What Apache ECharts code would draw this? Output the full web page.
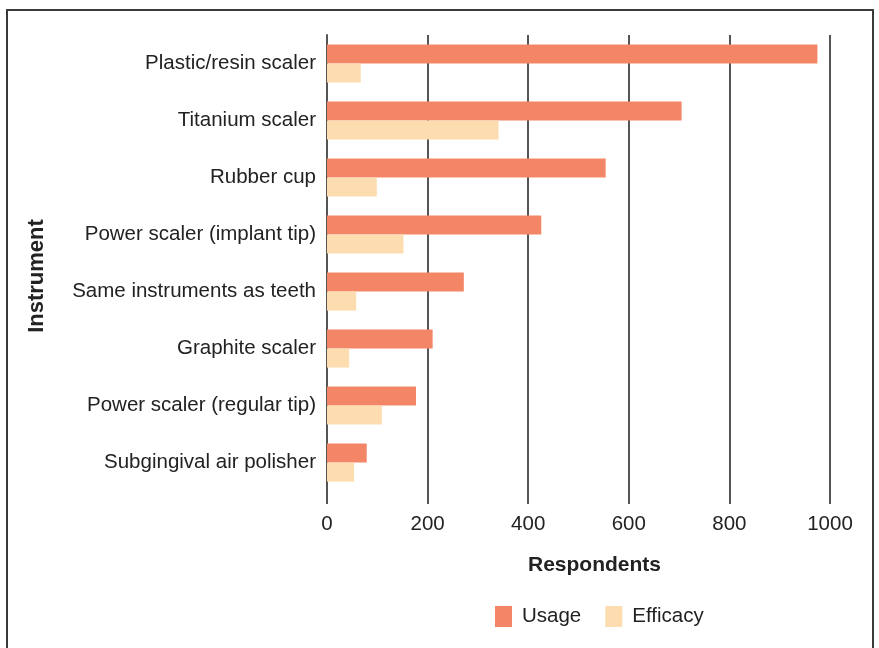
<!DOCTYPE html>
<html>
<head>
<meta charset="utf-8">
<script src="https://cdn.jsdelivr.net/npm/echarts@6/dist/echarts.min.js"></script>
<style>
  html, body { margin: 0; padding: 0; width: 879px; height: 648px; overflow: hidden; background: #fff; }
  #frame { position: absolute; left: 6px; top: 9px; width: 864px; height: 700px; border: 2px solid #3a3a3a; }
  #chart { position: absolute; left: 0; top: 0; width: 879px; height: 648px; }
</style>
</head>
<body>
<div id="frame"></div>
<div id="chart"></div>
<script>
  const categories = [
    'Plastic/resin scaler',
    'Titanium scaler',
    'Rubber cup',
    'Power scaler (implant tip)',
    'Same instruments as teeth',
    'Graphite scaler',
    'Power scaler (regular tip)',
    'Subgingival air polisher'
  ];
  const usage = [975, 705, 554, 426, 272, 210, 177, 79];
  const efficacy = [67, 341, 99, 152, 58, 44, 109, 54];
  const xTicks = [0, 200, 400, 600, 800, 1000];

  const font = "'Liberation Sans', Arial, sans-serif";
  const chart = echarts.init(document.getElementById('chart'));

  chart.setOption({
    animation: false,
    textStyle: { fontFamily: font },
    grid: { left: 327, right: 49, top: 35, height: 456 },
    legend: {
      bottom: 16,
      left: 490,
      itemWidth: 17,
      itemHeight: 21,
      itemGap: 24,
      icon: 'rect',
      textStyle: { fontSize: 20.5, color: '#222', fontFamily: font, padding: [0, 0, 0, 5] },
      data: ['Usage', 'Efficacy']
    },
    xAxis: {
      type: 'value',
      min: xTicks[0],
      max: xTicks[xTicks.length - 1],
      interval: 200,
      name: 'Respondents',
      nameLocation: 'middle',
      nameGap: 64,
      nameTextStyle: { fontSize: 21, fontWeight: 'bold', color: '#222', fontFamily: font, padding: [0, 0, 0, 32] },
      axisLine: { show: false },
      axisTick: { show: true, length: 13, lineStyle: { color: '#555', width: 2 } },
      axisLabel: { fontSize: 20.5, color: '#222', margin: 23, fontFamily: font, formatter: v => String(v) },
      splitLine: { show: true, lineStyle: { color: '#555', width: 2 } }
    },
    yAxis: {
      type: 'category',
      data: categories,
      inverse: true,
      name: 'Instrument',
      nameLocation: 'middle',
      nameGap: 279,
      nameRotate: 90,
      nameTextStyle: { fontSize: 22, fontWeight: 'bold', color: '#222', fontFamily: font, padding: [0, 26, 0, 0] },
      axisLine: { show: true, lineStyle: { color: '#555', width: 2 } },
      axisTick: { show: false },
      axisLabel: { fontSize: 20.5, color: '#222', margin: 11, fontFamily: font }
    },
    series: [
      {
        name: 'Usage',
        type: 'bar',
        data: usage,
        barGap: '0%',
        barCategoryGap: '33%',
        itemStyle: { color: '#F48668' }
      },
      {
        name: 'Efficacy',
        type: 'bar',
        data: efficacy,
        itemStyle: { color: '#FDDDB0' }
      }
    ]
  });
</script>
</body>
</html>
